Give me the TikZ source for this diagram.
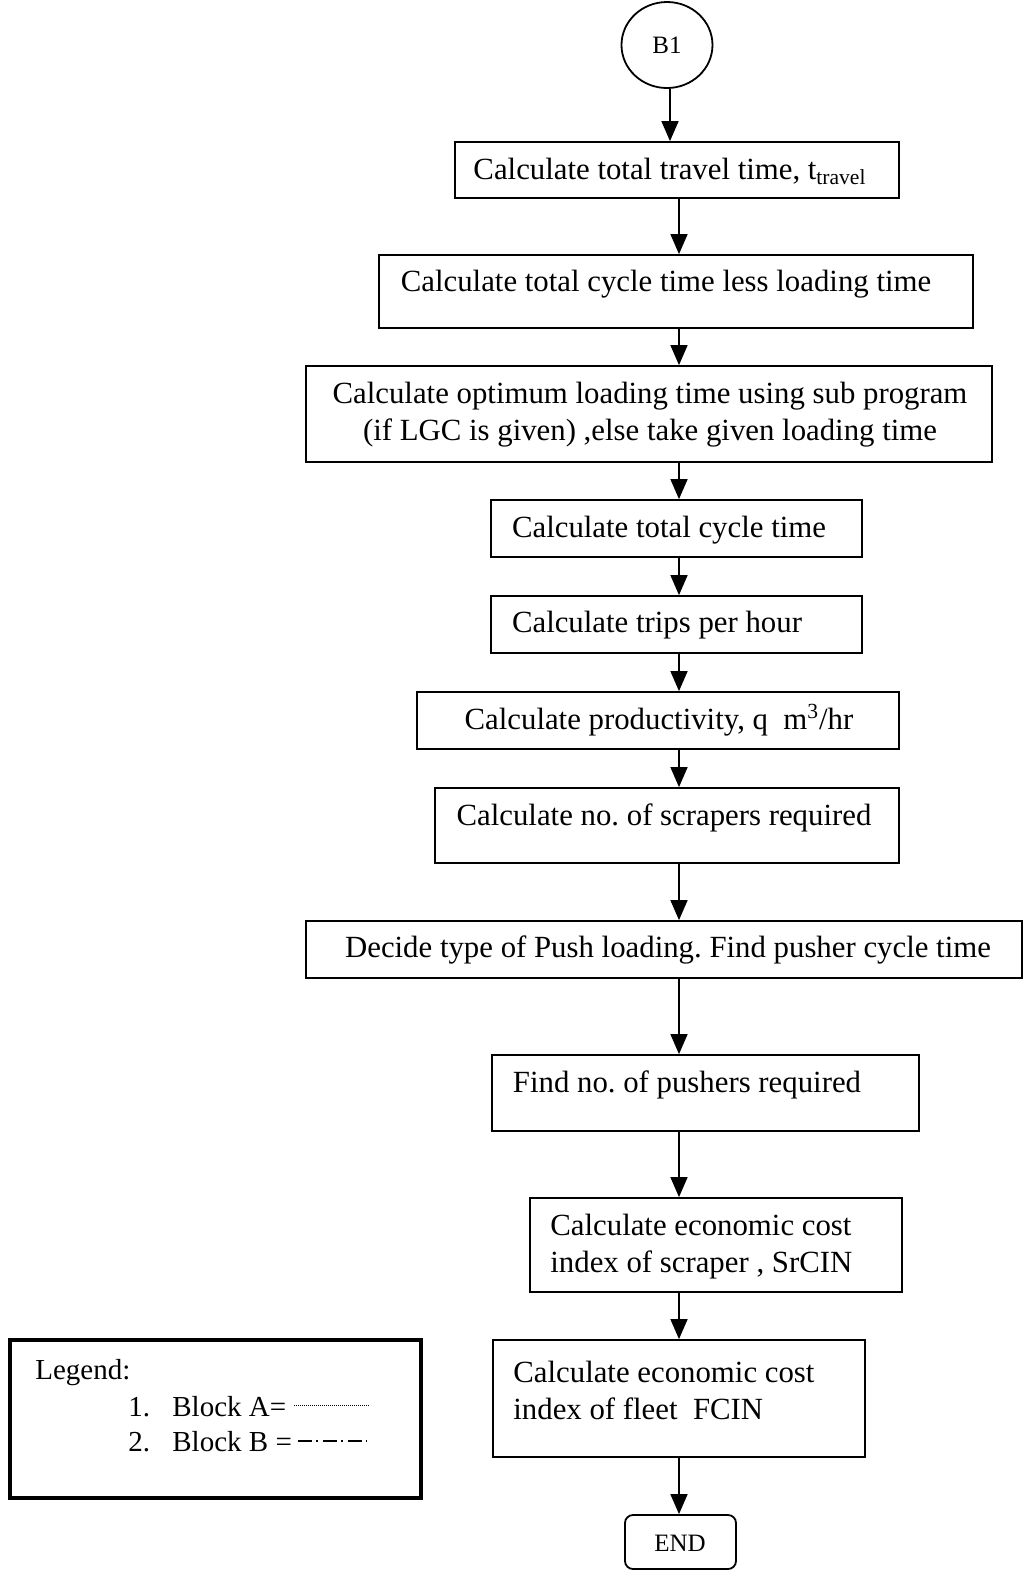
\documentclass[tikz,border=0pt]{standalone}
\usepackage{fontspec}
\setmainfont{Liberation Serif}
\usetikzlibrary{arrows.meta,shapes.geometric}
\frenchspacing
\begin{document}
\begin{tikzpicture}[x=0.5pt,y=-0.5pt,
  font=\fontsize{15.4}{18.5}\selectfont,
  box/.style={draw, line width=0.9pt, inner sep=0pt},
  txt/.style={inner sep=0pt},
  legtxt/.style={inner sep=0pt, anchor=west, font=\fontsize{14.5}{17}\selectfont},
  arr/.style={line width=0.8pt, -{Triangle[length=10pt,width=8.5pt]}}
]
\useasboundingbox (0,0) rectangle (1024,1571);

% columns for the connectors
\coordinate (colA) at (670,0);
\coordinate (col) at (679,0);

% start terminal
\node[draw, ellipse, line width=0.9pt, minimum width=45.5pt, minimum height=43pt, inner sep=0pt]
  (start) at (667,45) {\fontsize{12.5}{14}\selectfont B1};

% process boxes
\node[box, minimum width=222pt, minimum height=28pt] (b1) at (677,170) {};
\node[box, minimum width=297pt, minimum height=36.5pt] (b2) at (676,291.5) {};
\node[box, minimum width=343pt, minimum height=48pt] (b3) at (649,414) {};
\node[box, minimum width=185.5pt, minimum height=28.5pt] (b4) at (676.5,528.5) {};
\node[box, minimum width=185.5pt, minimum height=28.5pt] (b5) at (676.5,624.5) {};
\node[box, minimum width=241pt, minimum height=28.5pt] (b6) at (658,720.5) {};
\node[box, minimum width=232pt, minimum height=37.5pt] (b7) at (667,825.5) {};
\node[box, minimum width=358pt, minimum height=28.5pt] (b8) at (664,949.5) {};
\node[box, minimum width=213.5pt, minimum height=38pt] (b9) at (705.5,1093) {};
\node[box, minimum width=186pt, minimum height=47pt] (b10) at (716,1245) {};
\node[box, minimum width=186pt, minimum height=58.5pt] (b11) at (679,1398.5) {};
\node[box, rounded corners=4pt, minimum width=55.5pt, minimum height=27pt] (fin) at (680.5,1542) {};

% box texts
\node[txt] (t1) at (670,171) {Calculate total travel time, t\textsubscript{travel}};
\node[txt] (t2) at (666,284) {Calculate total cycle time less loading time};
\node[txt, align=center] (t3) at (650,414.5) {Calculate optimum loading time using sub program\\(if LGC is given) ,else take given loading time};
\node[txt] (t4) at (669,530) {Calculate total cycle time};
\node[txt] (t5) at (657,625) {Calculate trips per hour};
\node[txt] (t6) at (659,720) {Calculate productivity, q\ \ m\textsuperscript{3}/hr};
\node[txt] (t7) at (664,818) {Calculate no. of scrapers required};
\node[txt] (t8) at (668,950) {Decide type of Push loading. Find pusher cycle time};
\node[txt] (t9) at (687,1085) {Find no. of pushers required};
\node[txt, anchor=west, align=left] (t10) at (550,1246.5) {Calculate economic cost\\index of scraper , SrCIN};
\node[txt, anchor=west, align=left] (t11) at (513,1390) {Calculate economic cost\\index of fleet\ \ FCIN};
\node[txt] (tend) at (680,1543) {\fontsize{12.5}{14}\selectfont END};

% connectors
\draw[arr] (start.south -| colA) -- (b1.north -| colA);
\draw[arr] (b1.south -| col) -- (b2.north -| col);
\draw[arr] (b2.south -| col) -- (b3.north -| col);
\draw[arr] (b3.south -| col) -- (b4.north -| col);
\draw[arr] (b4.south -| col) -- (b5.north -| col);
\draw[arr] (b5.south -| col) -- (b6.north -| col);
\draw[arr] (b6.south -| col) -- (b7.north -| col);
\draw[arr] (b7.south -| col) -- (b8.north -| col);
\draw[arr] (b8.south -| col) -- (b9.north -| col);
\draw[arr] (b9.south -| col) -- (b10.north -| col);
\draw[arr] (b10.south -| col) -- (b11.north -| col);
\draw[arr] (b11.south -| col) -- (fin.north -| col);

% legend
\node[draw, line width=2pt, minimum width=205.5pt, minimum height=79pt, inner sep=0pt] (leg) at (215.5,1419) {};
\node[legtxt] (lt) at (35,1373) {Legend:};
\node[legtxt] (l1n) at (128,1407) {1.};
\node[legtxt] (l1) at (172,1407) {Block A=};
\node[legtxt] (l2n) at (128,1442) {2.};
\node[legtxt] (l2) at (172,1442) {Block B =};
\coordinate (la1) at (294,1405);
\coordinate (la2) at (369,1405);
\coordinate (lb1) at (298,1441);
\coordinate (lb2) at (367,1441);
\draw[line width=0.5pt, dash pattern=on 0.4pt off 0.6pt] (la1) -- (la2);
\draw[line width=0.9pt, dash pattern=on 7pt off 2.2pt on 1pt off 2.2pt] (lb1) -- (lb2);
\end{tikzpicture}
\end{document}
